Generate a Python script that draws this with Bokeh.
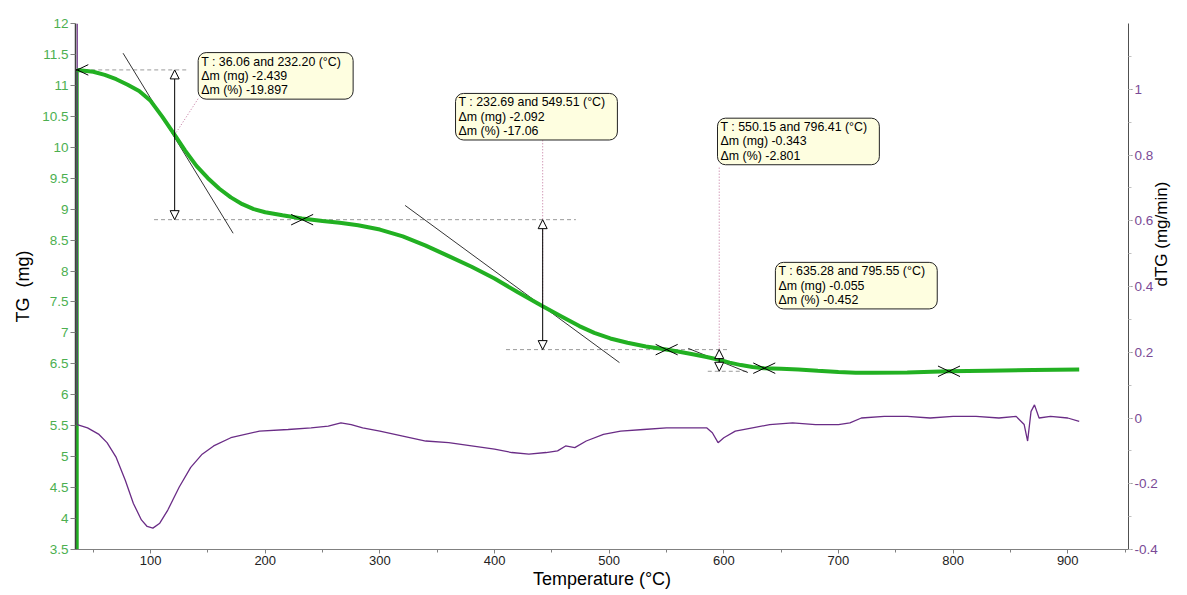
import math
from bokeh.plotting import figure
from bokeh.models import (Range1d, LinearAxis, SingleIntervalTicker, CustomJSTickFormatter,
                          Label, Arrow, NormalHead)
from bokeh.embed import file_html
from bokeh.resources import INLINE

# ---------------- data ----------------
tg_T = [36, 50, 60, 70, 80, 90, 100, 110, 121, 130, 140, 150, 160, 170, 180, 190, 200, 215,
        232, 250, 265, 281, 300, 320, 340, 360, 380, 400, 420, 442, 458, 474, 487, 501, 516,
        532, 547, 560, 574, 585, 595, 605, 615, 625, 635, 650, 665, 682, 700, 715, 730, 760,
        796, 830, 870, 910]
tg_mg = [11.25, 11.22, 11.17, 11.10, 11.01, 10.91, 10.75, 10.50, 10.20, 9.95, 9.70, 9.50,
         9.33, 9.19, 9.08, 9.00, 8.95, 8.90, 8.85, 8.81, 8.78, 8.74, 8.67, 8.56, 8.41, 8.24,
         8.07, 7.88, 7.66, 7.43, 7.27, 7.11, 7.00, 6.91, 6.84, 6.78, 6.74, 6.70, 6.65, 6.61,
         6.57, 6.52, 6.48, 6.45, 6.43, 6.42, 6.41, 6.39, 6.37, 6.355, 6.355, 6.36, 6.38, 6.39,
         6.40, 6.41]

dtg_T = [36, 45, 55, 62, 70, 78, 85, 92, 97, 102, 108, 115, 125, 135, 145, 155, 170, 195,
         220, 240, 255, 266, 275, 285, 300, 320, 340, 360, 380, 400, 415, 430, 445, 455, 462,
         470, 480, 495, 510, 530, 550, 570, 585, 590, 595, 600, 610, 625, 640, 660, 680, 700,
         710, 720, 740, 760, 780, 800, 820, 840, 855, 862, 865, 868, 871, 875, 885, 900, 910]
dtg_v = [-0.02, -0.03, -0.05, -0.075, -0.12, -0.19, -0.26, -0.31, -0.33, -0.335, -0.32,
         -0.28, -0.21, -0.15, -0.11, -0.085, -0.06, -0.04, -0.035, -0.03, -0.025, -0.015,
         -0.02, -0.03, -0.04, -0.055, -0.07, -0.075, -0.085, -0.095, -0.105, -0.11, -0.105,
         -0.10, -0.085, -0.09, -0.07, -0.05, -0.04, -0.035, -0.03, -0.03, -0.03, -0.045,
         -0.075, -0.06, -0.04, -0.03, -0.02, -0.015, -0.02, -0.02, -0.015, 0.0, 0.005, 0.005,
         0.0, 0.005, 0.005, 0.0, 0.005, -0.02, -0.07, 0.02, 0.04, 0.0, 0.005, 0.0, -0.01]

# mass-loss steps
step_T_start = [36.06, 232.69, 550.15, 635.28]
step_T_end = [232.20, 549.51, 796.41, 795.55]
dm_mg = [-2.439, -2.092, -0.343, -0.055]
dm_pct = [-19.897, -17.06, -2.801, -0.452]

# plateau levels (mg) and the extent of their dashed guide lines
level_mg = [11.25, 8.83, 6.73, 6.38]
level_T0 = [36, 103, 410, 586]
level_T1 = [132, 471, 603, 621]

# vertical double arrows (at inflection temperatures)
arrow_T = [121, 442, 596]
arrow_top = [11.25, 8.83, 6.73]
arrow_bot = [8.83, 6.73, 6.38]

# tangents
tan_T0 = [76, 322, 569]
tan_m0 = [11.52, 9.06, 6.75]
tan_T1 = [172, 509, 621]
tan_m1 = [8.61, 6.52, 6.36]

# leader lines from arrows to boxes
lead_T0 = [121, 442, 596]
lead_m0 = [10.20, 7.43, 6.60]
lead_T1 = [142, 442, 596]
lead_m1 = [10.80, 10.11, 9.69]

# X markers (T, mg)
mark_T = [36.06, 232.20, 550.15, 635.28, 796.41]
mark_mg = [11.25, 8.83, 6.73, 6.43, 6.38]

# axis titles
x_title = "Temperature (°C)"
y_title = "TG\u00a0 (mg)"
y2_title = "dTG (mg/min)"

FONT = "Liberation Sans"
GREEN = "#22b022"
GREEN_TXT = "#4caf50"
PURPLE = "#6a2c86"
PURPLE_TXT = "#7a4a96"

p = figure(width=1187, height=592, output_backend="svg", toolbar_location=None,
           x_range=Range1d(34.5, 953), y_range=Range1d(3.5, 12),
           min_border_left=75, min_border_right=59, min_border_top=23, min_border_bottom=43)
p.extra_y_ranges = {"dtg": Range1d(-0.4, 1.2)}
p.grid.visible = False
p.outline_line_color = None
p.background_fill_color = "white"

fmt = CustomJSTickFormatter(code="return String(Math.round(tick*100)/100);")

xa = p.xaxis[0]
xa.ticker = SingleIntervalTicker(interval=100, num_minor_ticks=2)
xa.axis_label = x_title
xa.axis_label_text_font = FONT
xa.axis_label_text_font_size = "18px"
xa.axis_label_text_font_style = "normal"
xa.axis_label_text_color = "black"
xa.axis_label_standoff = 1
xa.major_label_text_font = FONT
xa.major_label_text_font_size = "13px"
xa.major_label_text_color = "#222222"
xa.major_label_standoff = 2
xa.axis_line_color = "#808080"
xa.major_tick_line_color = "#808080"
xa.minor_tick_line_color = "#808080"
xa.major_tick_out = 4
xa.major_tick_in = 0
xa.minor_tick_out = 3
xa.minor_tick_in = 0
xa.formatter = fmt

ya = p.yaxis[0]
ya.ticker = SingleIntervalTicker(interval=0.5, num_minor_ticks=0)
ya.formatter = fmt
ya.axis_label = y_title
ya.axis_label_text_font = FONT
ya.axis_label_text_font_size = "18px"
ya.axis_label_text_font_style = "normal"
ya.axis_label_text_color = "black"
ya.axis_label_standoff = 6
ya.major_label_text_font = FONT
ya.major_label_text_font_size = "13.5px"
ya.major_label_text_color = GREEN_TXT
ya.major_label_standoff = 2
ya.axis_line_color = "#404040"
ya.axis_line_width = 1.5
ya.major_tick_line_color = "#808080"
ya.major_tick_out = 5
ya.major_tick_in = 0
ya.minor_tick_line_color = None

ra = LinearAxis(y_range_name="dtg")
ra.ticker = SingleIntervalTicker(interval=0.2, num_minor_ticks=2)
ra.formatter = fmt
ra.axis_label = y2_title
ra.axis_label_orientation = math.pi / 2
ra.axis_label_text_font = FONT
ra.axis_label_text_font_size = "17px"
ra.axis_label_text_font_style = "normal"
ra.axis_label_text_color = "black"
ra.axis_label_standoff = 1
ra.major_label_text_font = FONT
ra.major_label_text_font_size = "13.5px"
ra.major_label_text_color = PURPLE_TXT
ra.major_label_standoff = 2
ra.axis_line_color = "#505050"
ra.major_tick_line_color = "#808080"
ra.minor_tick_line_color = "#c0c0c0"
ra.major_tick_out = 4
ra.major_tick_in = 0
ra.minor_tick_out = 3
ra.minor_tick_in = 0
p.add_layout(ra, "right")

# vertical starting segments of both curves along the left edge
p.segment(x0=[tg_T[0]], y0=[p.y_range.start], x1=[tg_T[0]], y1=[tg_mg[0]],
          line_color=GREEN, line_width=3)
p.segment(x0=[dtg_T[0]], y0=[p.extra_y_ranges["dtg"].end], x1=[dtg_T[0]], y1=[dtg_v[0]],
          line_color=PURPLE, line_width=1.2, y_range_name="dtg")

# dTG curve
p.line(dtg_T, dtg_v, line_color=PURPLE, line_width=1.3, y_range_name="dtg")

# dashed plateau guides
p.segment(x0=level_T0, y0=level_mg, x1=level_T1, y1=level_mg,
          line_color="#9a9a9a", line_width=1, line_dash="4 3")

# tangents
p.segment(x0=tan_T0, y0=tan_m0, x1=tan_T1, y1=tan_m1, line_color="black", line_width=0.8)

# dotted leaders
p.segment(x0=lead_T0, y0=lead_m0, x1=lead_T1, y1=lead_m1,
          line_color="#c0709a", line_width=1, line_dash="1 2")

# TG curve
p.line(tg_T, tg_mg, line_color=GREEN, line_width=4)

# double arrows
for xt, yt, yb in zip(arrow_T, arrow_top, arrow_bot):
    p.add_layout(Arrow(x_start=xt, y_start=yb, x_end=xt, y_end=yt,
                       start=NormalHead(size=9, fill_color="white", line_color="black", line_width=1),
                       end=NormalHead(size=9, fill_color="white", line_color="black", line_width=1),
                       line_color="black", line_width=1))

# X markers (flattened crosses)
hw, hh = 9.6, 0.085
p.segment(x0=[t - hw for t in mark_T], y0=[m + hh for m in mark_mg],
          x1=[t + hw for t in mark_T], y1=[m - hh for m in mark_mg],
          line_color="black", line_width=1)
p.segment(x0=[t - hw for t in mark_T], y0=[m - hh for m in mark_mg],
          x1=[t + hw for t in mark_T], y1=[m + hh for m in mark_mg],
          line_color="black", line_width=1)

# annotation boxes
box_pos = [(141.5, 11.53), (366, 10.87), (594.5, 10.47), (645, 8.14)]
for (bx, by), a, b, dm, pc in zip(box_pos, step_T_start, step_T_end, dm_mg, dm_pct):
    txt = f"T : {a:.2f} and {b:.2f} (°C)\nΔm (mg) {dm}\nΔm (%) {pc}"
    p.add_layout(Label(x=bx, y=by, text=txt, anchor="top_left",
                       text_font=FONT, text_font_size="12.4px", text_color="black",
                       text_line_height=1.02,
                       background_fill_color="#fefee0", background_fill_alpha=1.0,
                       border_line_color="#222222", border_line_width=1,
                       padding=dict(left=3, right=12, top=2, bottom=2), border_radius=8))

open("out.html", "w").write(file_html(p, INLINE))
